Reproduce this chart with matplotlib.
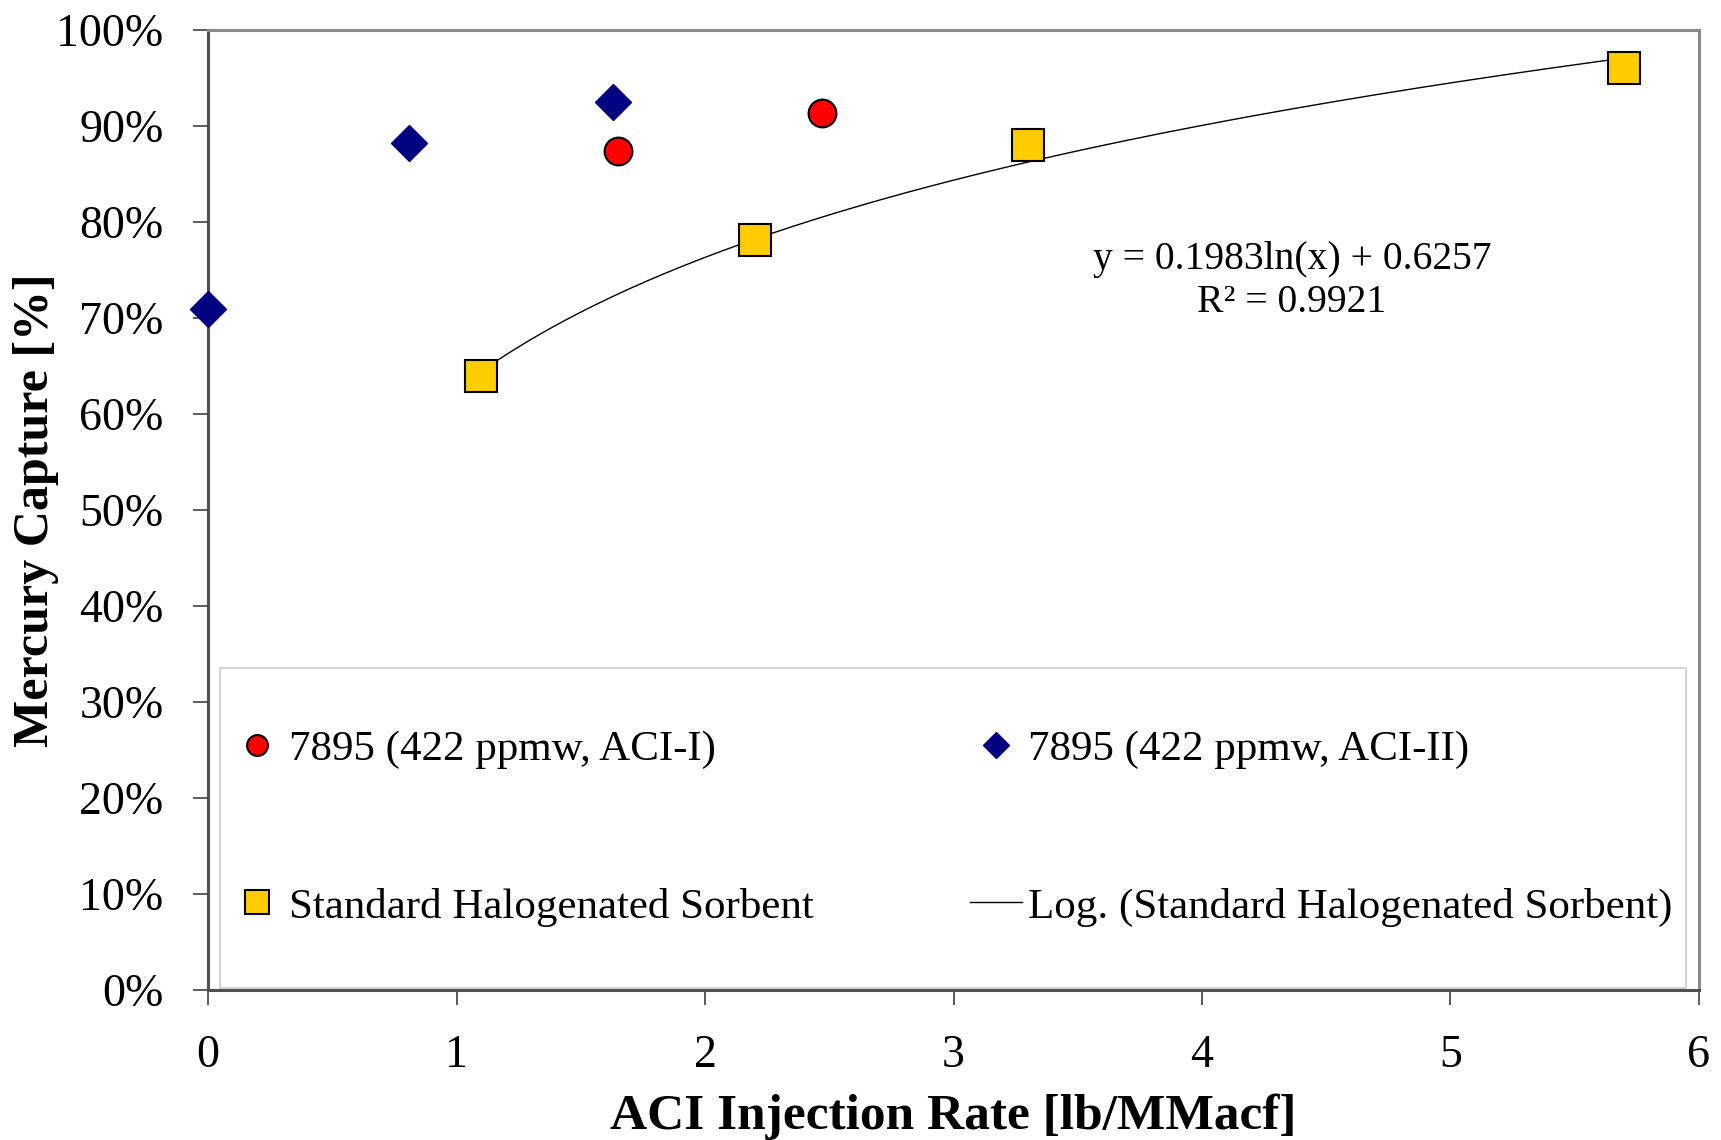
import numpy as np
import matplotlib
matplotlib.use("Agg")
import matplotlib.pyplot as plt
from matplotlib.patches import Rectangle

plt.rcParams["font.family"] = ["Liberation Serif", "DejaVu Serif"]

# data (x in lb/MMacf, y as fraction)
aci1_x = [1.65, 2.47]
aci1_y = [0.874, 0.914]
aci2_x = [0.0, 0.81, 1.63]
aci2_y = [0.709, 0.882, 0.925]
std_x = [1.10, 2.20, 3.30, 5.70]
std_y = [0.640, 0.781, 0.880, 0.960]

# fitted log trendline shown on the chart
fit_a = 0.1983
fit_b = 0.6257
fit_r2 = 0.9921

x_ticks = [0, 1, 2, 3, 4, 5, 6]
y_ticks = [0.0, 0.1, 0.2, 0.3, 0.4, 0.5, 0.6, 0.7, 0.8, 0.9, 1.0]
y_tick_labels = ["0%", "10%", "20%", "30%", "40%", "50%", "60%", "70%", "80%", "90%", "100%"]

fig = plt.figure(figsize=(17.21, 11.40), dpi=100)
ax = fig.add_axes([0.1209, 0.1316, 0.8663, 0.8421])

# trendline
tx = np.linspace(min(std_x), max(std_x), 200)
ax.plot(tx, fit_a * np.log(tx) + fit_b, color="black", lw=1.0, zorder=2,
        label="Log. (Standard Halogenated Sorbent)")

ax.plot(aci1_x, aci1_y, "o", ms=20, mfc="#ff0000", mec="black", mew=1.5,
        zorder=4, clip_on=False, label="7895 (422 ppmw, ACI-I)")
ax.plot(aci2_x, aci2_y, "D", ms=18, mfc="#000080", mec="#000080", mew=1,
        zorder=4, clip_on=False, label="7895 (422 ppmw, ACI-II)")
ax.plot(std_x, std_y, "s", ms=23, mfc="#ffcc00", mec="black", mew=1.5,
        zorder=4, clip_on=False, label="Standard Halogenated Sorbent")

ax.set_xlim(0, 6)
ax.set_ylim(0, 1)
ax.set_xticks(x_ticks)
ax.set_xticklabels([str(v) for v in x_ticks])
ax.set_yticks(y_ticks)
ax.set_yticklabels(y_tick_labels)
ax.tick_params(axis="both", direction="out", length=11, width=1.2,
               color="#404040", labelsize=33)
ax.tick_params(axis="y", pad=21)
ax.tick_params(axis="x", pad=21)

for side in ["left", "bottom"]:
    ax.spines[side].set_color("#505050")
    ax.spines[side].set_linewidth(2.2)
for side in ["top", "right"]:
    ax.spines[side].set_color("#8a8a8a")
    ax.spines[side].set_linewidth(2.2)

ax.set_xlabel("ACI Injection Rate [lb/MMacf]", fontsize=37, fontweight="bold",
              labelpad=12)
ax.set_ylabel("Mercury Capture [%]", fontsize=36, fontweight="bold", labelpad=-2)

ax.text(0.727, 0.761, "y = %.4fln(x) + %.4f" % (fit_a, fit_b), transform=ax.transAxes,
        ha="center", va="center", fontsize=28.5)
ax.text(0.727, 0.716, "R² = %.4f" % fit_r2, transform=ax.transAxes,
        ha="center", va="center", fontsize=28.5)

# legend box
ax.add_patch(Rectangle((0.008, 0.002), 0.983, 0.333, transform=ax.transAxes,
                       facecolor="white", edgecolor="#d4d4d4", lw=1.5, zorder=1))

h, l = ax.get_legend_handles_labels()
order = [1, 3, 2, 0]
leg = ax.legend([h[i] for i in order], [l[i] for i in order], ncol=2,
                mode="expand", loc="center", bbox_to_anchor=(0.0154, 0.002, 0.967, 0.333),
                frameon=False, fontsize=31, handlelength=1.2, handletextpad=0.15,
                labelspacing=2.75, borderpad=0, borderaxespad=0, markerscale=0.75)

fig.savefig("out.png", dpi=100)
